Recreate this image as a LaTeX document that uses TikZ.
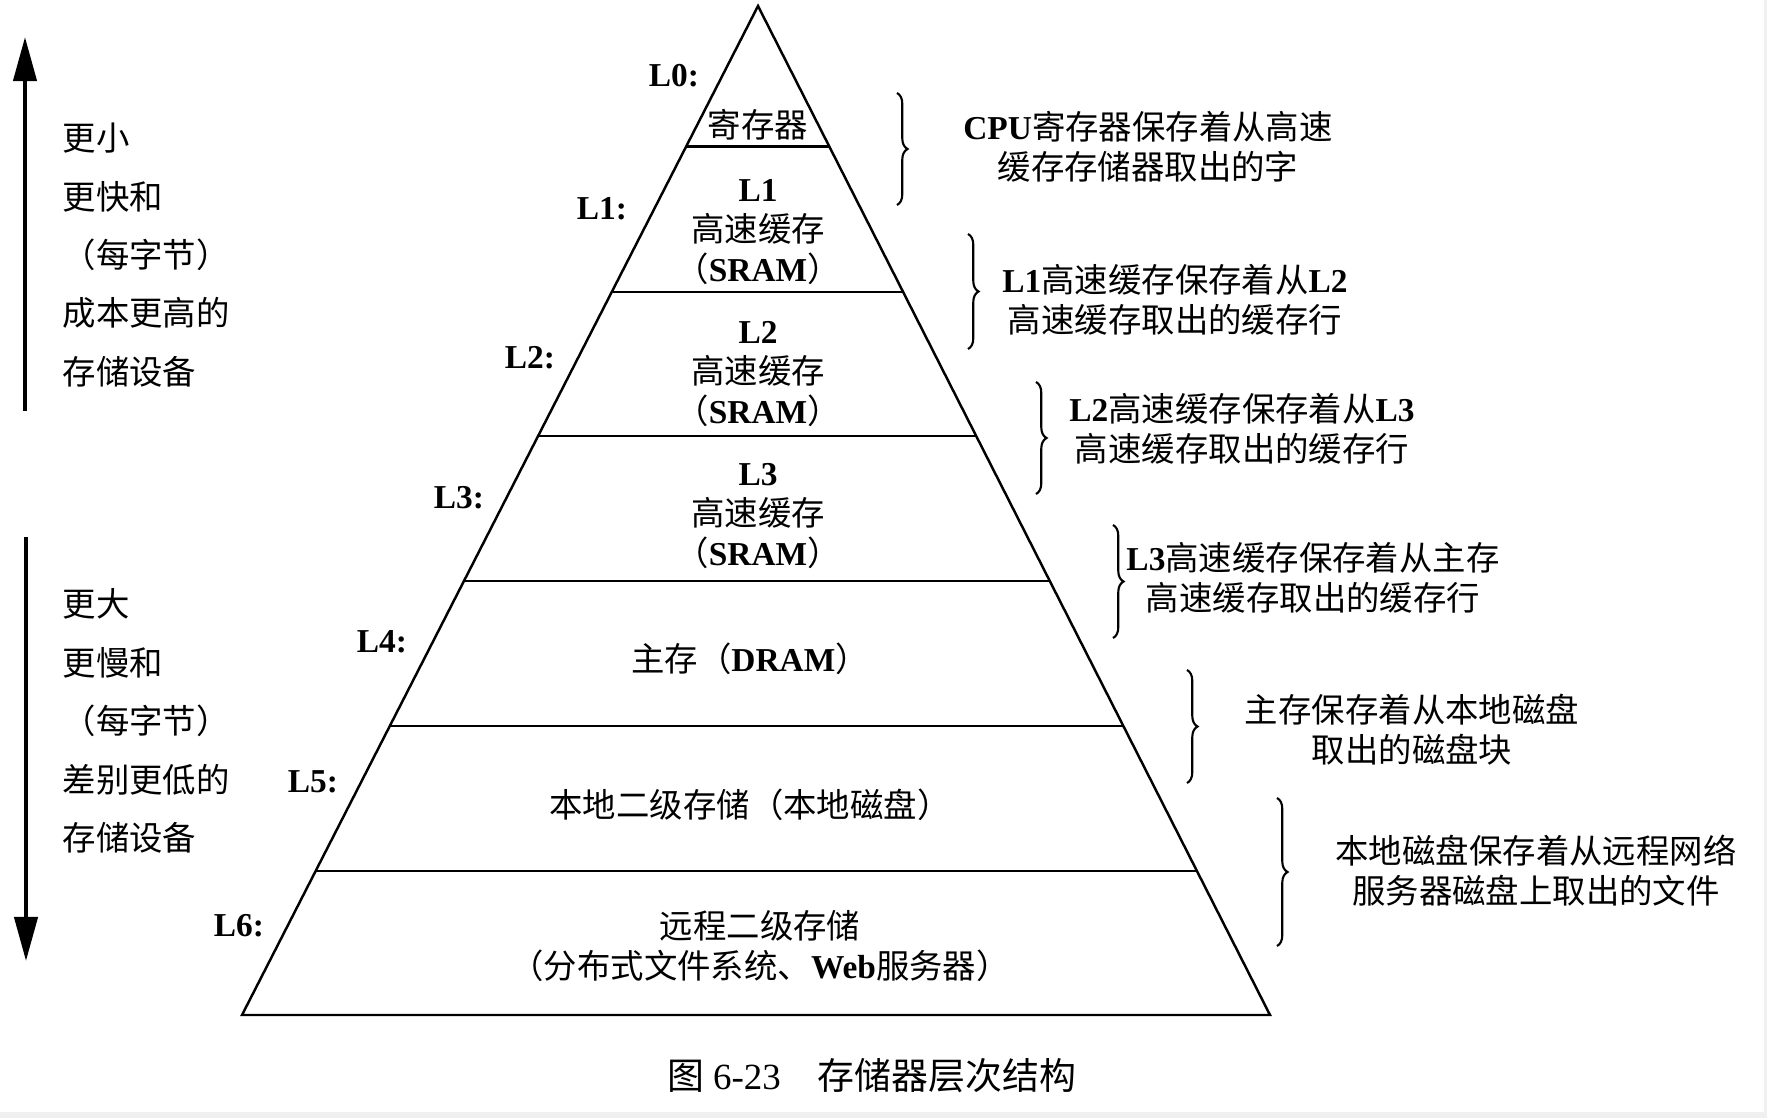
\documentclass[tikz,border=0pt]{standalone}
\usepackage{fontspec}
\setmainfont{Noto Sans CJK SC}
\newfontfamily\latinfont{Liberation Serif}
\newcommand\enf[1]{{\latinfont\bfseries #1}}
\usetikzlibrary{calc,arrows.meta,decorations.pathreplacing}

\begin{document}
\begin{tikzpicture}[
	x=0.01cm, y=-0.01cm,
	edge/.style = {line width=0.7pt, black},
	level/.style = {inner sep=0pt, font=\fontsize{9.5}{11.4}\selectfont\latinfont\bfseries},
	box/.style = {inner sep=0pt, align=center,
		font=\fontsize{9.5}{11.4}\selectfont},
	side/.style = {inner sep=0pt, anchor=west, align=left,
		font=\fontsize{9.5}{16.6}\selectfont},
	brc/.style = {decorate, decoration={brace, amplitude=3pt}, line width=0.6pt},
	bigarrow/.style = {line width=1.2pt, -{Triangle[length=0.44cm, width=0.23cm]}},
	]
	\useasboundingbox (0,0) rectangle (1767,1118);
	\fill[gray!12] (0,0) rectangle (1767,1118);
	\fill[white] (0,0) rectangle (1764,1112);
	
	% pyramid
	\coordinate (apex) at (758,6);
	\coordinate (bl) at (242,1015);
	\coordinate (br) at (1270,1015);
	\draw[edge] (apex) -- (bl) -- (br) -- cycle;
	\foreach \t in {0.1392,0.2834,0.4262,0.5699,0.7136,0.8573}
	\draw[edge] ($(apex)!\t!(bl)$) -- ($(apex)!\t!(br)$);
	
	\begin{scope}[every node/.append style={box}]
	
	\node (reg) at (758,125) {寄存器};
	
	\node (l1) at (758,232) {\enf{L1}\\高速缓存\\（\enf{SRAM}）};
	
	\node (l2) at (758,374) {\enf{L2}\\高速缓存\\（\enf{SRAM}）};
	
	\node (l3) at (758,516) {\enf{L3}\\高速缓存\\（\enf{SRAM}）};
	
	\node (mem) at (750,659) {主存（\enf{DRAM}）};
	
	\node (disk) at (750,805) {本地二级存储（本地磁盘）};
	
	\node (remote) at (760,946) {远程二级存储\\（分布式文件系统、\enf{Web}服务器）};
	
	\end{scope}
	
	%\foreach \i [count=\j] in {...}
	\foreach \i/\x/\y in {0/674/75.5, 1/602/208.5, 2/530/358, 3/459/498,
		4/382/642, 5/313/782, 6/239/926}
	\node[level] (L\i) at (\x,\y) {L\i:};
	
	% braces on the right
	\foreach \i/\x/\ya/\yb in {0/897/93/205, 1/968/234/349, 2/1036/382/494,
		3/1113/525/638, 4/1187/670/783, 5/1277/798/946}
	\draw[brc] (\x,\ya) coordinate (b\i t) -- (\x,\yb) coordinate (b\i b);
	
	\begin{scope}[every node/.append style={box}]
	
	\node (n0) at (1148,147) {\enf{CPU}寄存器保存着从高速\\缓存存储器取出的字};
	
	\node (n1) at (1175,300) {\enf{L1}高速缓存保存着从\enf{L2}\\高速缓存取出的缓存行};
	
	\node (n2) at (1242,429) {\enf{L2}高速缓存保存着从\enf{L3}\\高速缓存取出的缓存行};
	
	\node (n3) at (1313,578) {\enf{L3}高速缓存保存着从主存\\高速缓存取出的缓存行};
	
	\node (n4) at (1412,730) {主存保存着从本地磁盘\\取出的磁盘块};
	
	\node (n5) at (1536,871) {本地磁盘保存着从远程网络\\服务器磁盘上取出的文件};
	
	\end{scope}
	
	% left side
	\coordinate (up-s) at (25,411);
	\coordinate (up-e) at (25,37);
	\draw[bigarrow] (up-s) -- (up-e);
	\node[side] (small) at (62,255) {更小\\更快和\\（每字节）\\成本更高的\\存储设备};
	
	\coordinate (dn-s) at (26,537);
	\coordinate (dn-e) at (26,961);
	\draw[bigarrow] (dn-s) -- (dn-e);
	\node[side] (large) at (62,721) {更大\\更慢和\\（每字节）\\差别更低的\\存储设备};
	
	\node[inner sep=0pt, font=\fontsize{10.5}{12}\selectfont] (cap) at (872,1076)
	{图 {\latinfont 6-23}　存储器层次结构};
\end{tikzpicture}
\end{document}
